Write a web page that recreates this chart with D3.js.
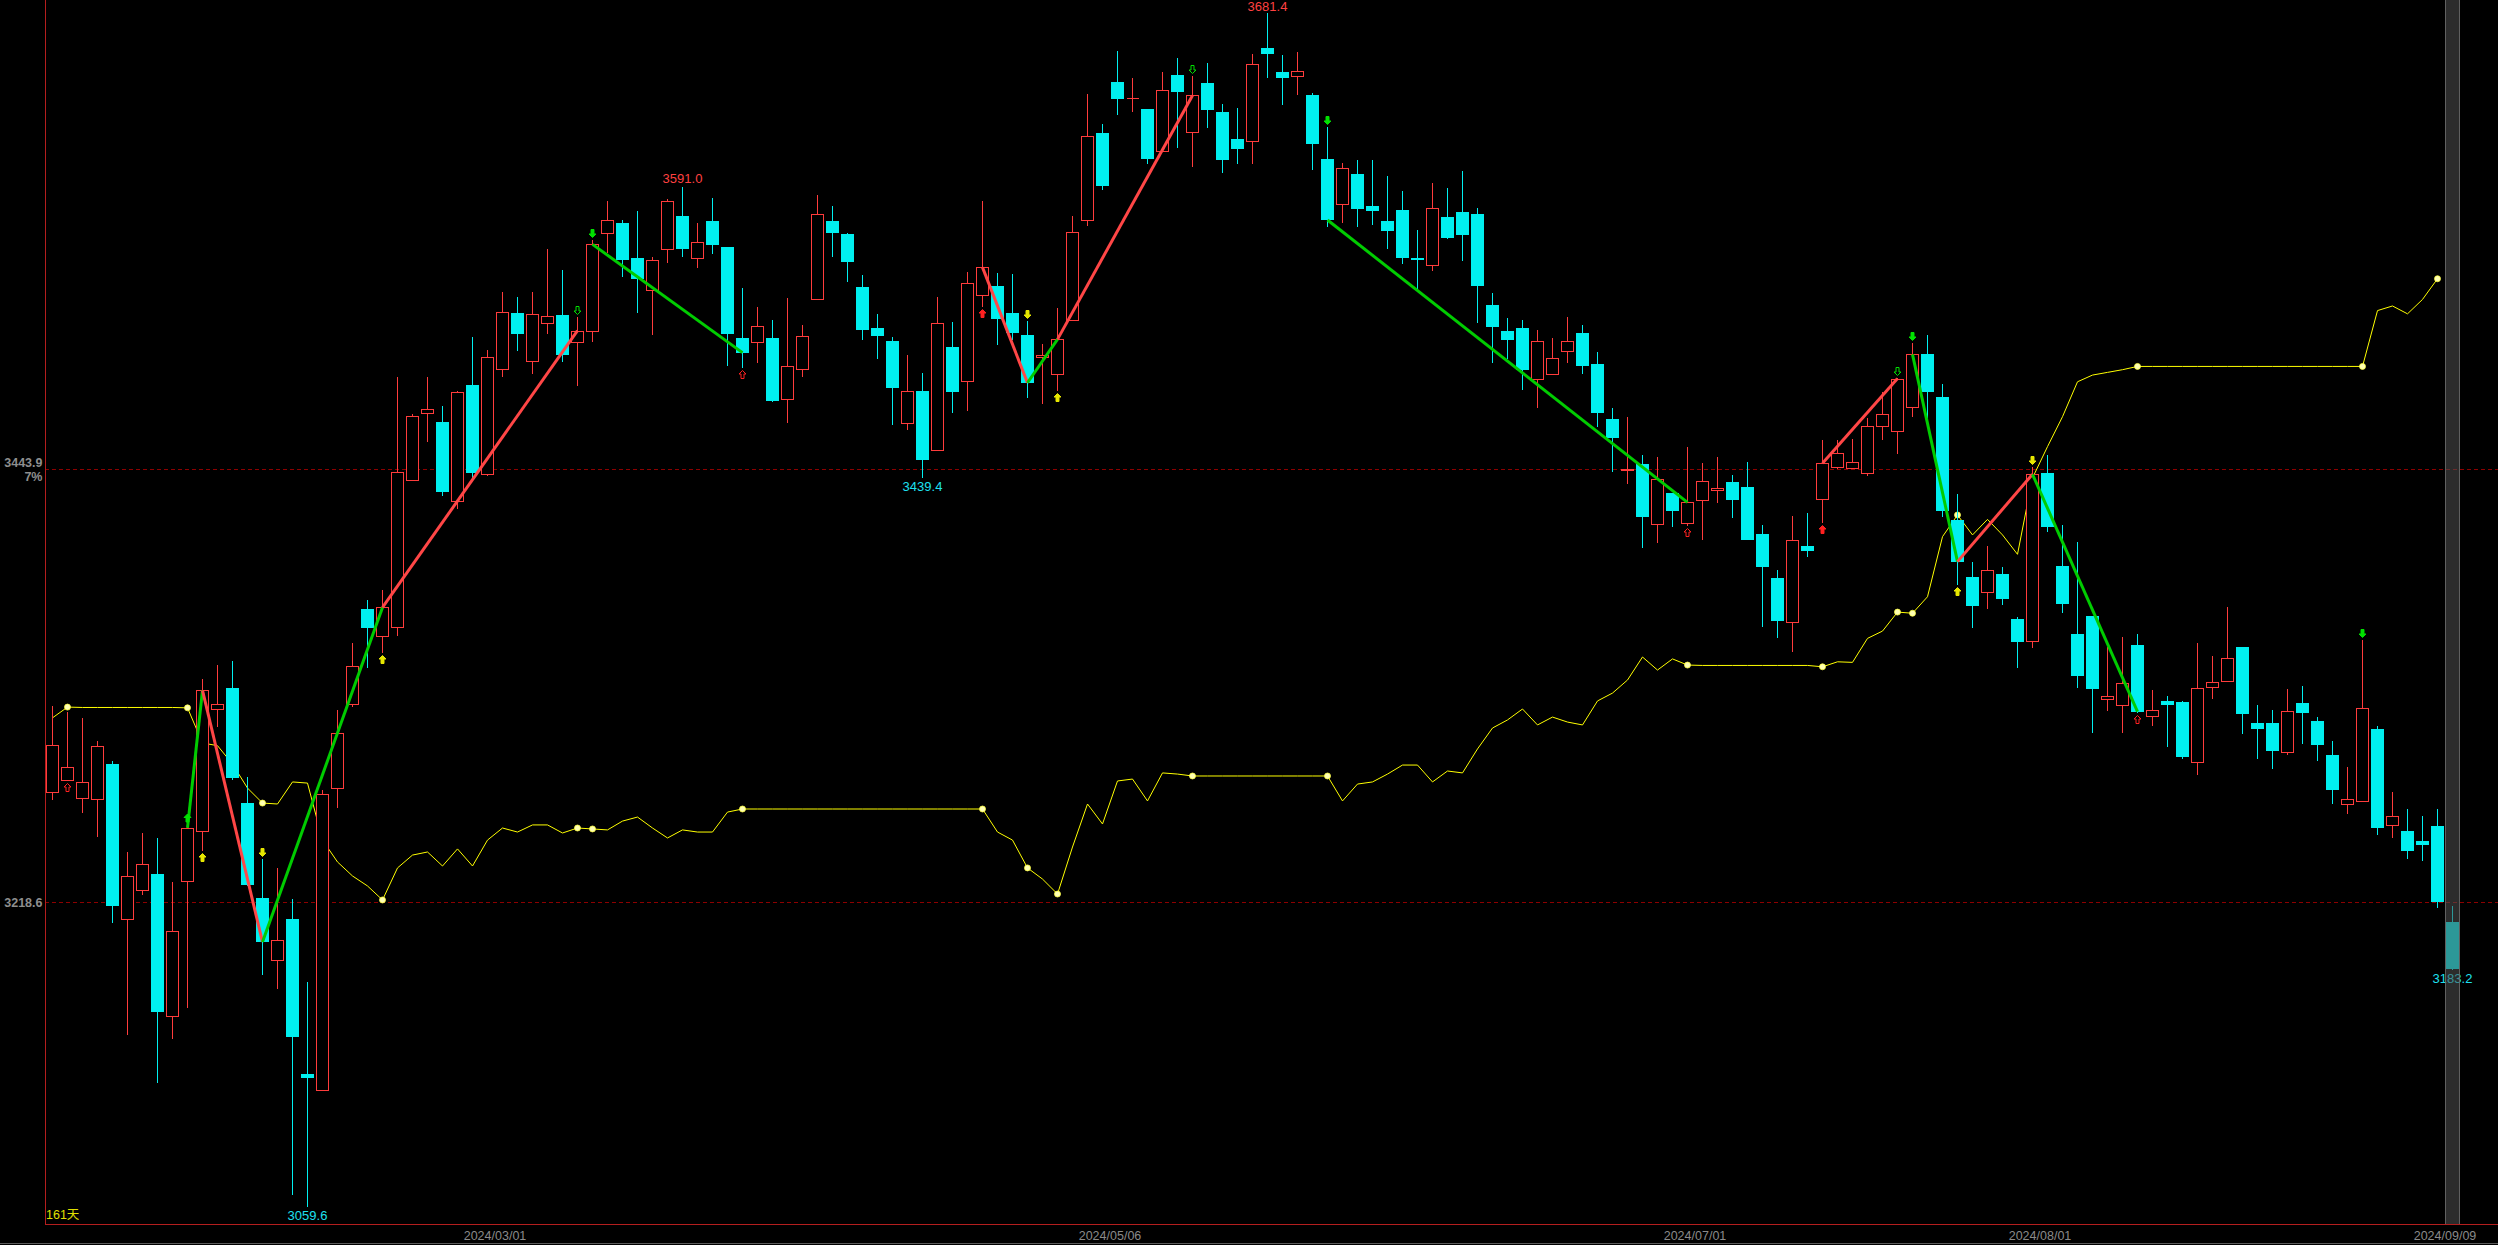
<!DOCTYPE html>
<html><head><meta charset="utf-8">
<script src="https://cdn.jsdelivr.net/npm/d3@7/dist/d3.min.js"></script>
<style>html,body{margin:0;padding:0;background:#000;overflow:hidden}svg{display:block}</style>
</head><body>
<svg id="c" width="2498" height="1245"></svg>
<script>
// ---------------- DATA ----------------
const opens = [3275.8,3282.2,3272.7,3272.3,3290.1,3209.6,3224.8,3232.8,3159.0,3229.3,
 3255.5,3319.1,3329.9,3269.8,3220.4,3188.1,3209.4,3128.8,3120.7,3278.1,
 3321.6,3371.1,3357.3,3361.6,3438.5,3473.0,3468.5,3427.2,3487.9,3441.7,
 3496.3,3525.3,3500.4,3519.9,3524.2,3510.4,3516.2,3566.8,3572.2,3554.0,
 3537.1,3558.5,3575.9,3554.2,3573.3,3559.6,3512.1,3510.4,3512.1,3480.4,
 3496.0,3532.5,3573.3,3566.5,3538.9,3517.5,3510.7,3468.2,3484.7,3454.1,
 3507.4,3489.7,3534.5,3539.2,3525.2,3513.7,3502.2,3493.4,3521.5,3573.6,
 3618.9,3645.7,3637.2,3631.6,3609.9,3649.2,3619.4,3645.2,3630.1,3616.0,
 3615.1,3663.4,3650.9,3648.7,3638.9,3605.6,3582.0,3597.8,3581.1,3573.3,
 3579.0,3554.0,3550.2,3575.4,3578.0,3576.9,3529.5,3516.0,3517.5,3490.8,
 3493.7,3505.7,3514.9,3498.8,3470.1,3443.4,3446.7,3415.2,3431.4,3415.7,
 3427.7,3432.9,3437.3,3434.7,3410.2,3387.3,3364.5,3403.9,3428.6,3445.3,
 3444.7,3442.2,3466.6,3464.0,3476.5,3504.0,3481.6,3417.5,3387.8,3380.1,
 3389.2,3365.9,3354.6,3442.0,3393.5,3358.1,3367.5,3324.1,3321.2,3352.3,
 3315.2,3323.0,3322.5,3291.2,3330.6,3333.4,3351.3,3311.5,3311.5,3296.8,
 3321.9,3312.6,3294.9,3269.3,3270.9,3308.4,3258.4,3255.3,3250.0,3258.0,
 3208.0];
const highs = [3320.8,3317.3,3314.1,3302.3,3291.7,3244.3,3254.2,3251.7,3229.1,3264.2,
 3334.7,3341.9,3344.0,3283.5,3241.1,3236.4,3219.8,3176.9,3276.8,3318.3,
 3353.4,3375.6,3380.8,3492.2,3472.8,3492.0,3476.9,3484.5,3512.7,3506.0,
 3536.5,3533.9,3536.3,3558.7,3547.7,3523.5,3563.5,3583.6,3573.8,3578.5,
 3554.3,3584.7,3591.0,3572.1,3585.1,3559.8,3538.2,3528.3,3521.5,3533.0,
 3519.1,3586.8,3581.1,3567.2,3545.1,3524.8,3512.8,3503.5,3494.1,3533.7,
 3520.6,3546.7,3583.7,3546.0,3545.5,3521.2,3509.0,3527.8,3575.9,3639.3,
 3623.6,3661.9,3647.6,3631.8,3650.9,3658.0,3648.8,3655.6,3634.2,3632.2,
 3660.3,3681.4,3659.8,3661.3,3640.0,3622.4,3603.3,3605.1,3605.1,3596.7,
 3588.9,3568.6,3593.1,3590.5,3599.3,3580.0,3535.8,3522.7,3521.5,3516.5,
 3512.1,3523.3,3519.1,3505.0,3475.8,3471.2,3451.4,3450.1,3431.6,3455.7,
 3447.2,3450.3,3440.9,3447.7,3414.9,3391.4,3419.6,3421.0,3459.2,3459.2,
 3459.7,3470.4,3484.0,3491.3,3509.9,3513.9,3488.3,3431.0,3395.6,3403.9,
 3392.8,3367.1,3445.3,3451.4,3414.9,3406.0,3367.7,3351.5,3356.3,3358.1,
 3328.9,3325.8,3323.2,3353.4,3346.6,3372.0,3351.5,3320.9,3318.5,3329.4,
 3330.8,3314.8,3302.2,3288.6,3354.9,3310.1,3275.8,3266.9,3263.3,3266.9,
 3216.4];
const lows = [3271.6,3281.5,3264.6,3252.3,3207.3,3148.9,3222.3,3124.2,3146.8,3163.4,
 3244.9,3309.6,3282.0,3226.8,3180.6,3172.9,3065.9,3059.6,3120.4,3267.5,
 3319.9,3340.6,3348.0,3357.3,3437.8,3458.3,3430.0,3423.1,3439.3,3440.4,
 3492.2,3505.6,3493.7,3514.5,3499.6,3487.5,3510.2,3556.4,3543.9,3525.5,
 3514.1,3551.6,3554.7,3549.0,3556.3,3497.9,3496.5,3499.1,3479.1,3467.9,
 3491.8,3532.3,3554.7,3541.7,3511.3,3501.4,3467.0,3464.4,3439.4,3453.6,
 3473.4,3474.5,3528.6,3508.7,3511.3,3481.2,3478.1,3484.9,3521.3,3570.9,
 3589.6,3628.5,3630.2,3603.1,3609.7,3611.5,3601.6,3621.9,3598.5,3603.2,
 3603.2,3648.0,3633.9,3639.1,3599.8,3570.3,3572.4,3570.3,3571.2,3558.9,
 3551.0,3536.5,3547.4,3563.7,3552.6,3520.3,3499.1,3501.4,3485.2,3476.0,
 3493.0,3499.5,3493.6,3466.1,3442.7,3436.4,3402.7,3405.3,3414.0,3414.4,
 3407.1,3426.5,3418.7,3407.0,3361.9,3356.2,3348.9,3398.4,3415.7,3443.9,
 3443.9,3440.4,3459.2,3451.9,3471.3,3470.0,3419.2,3383.6,3361.0,3370.9,
 3373.2,3340.2,3351.0,3411.4,3369.2,3330.1,3306.7,3318.1,3306.7,3316.7,
 3310.3,3299.4,3293.1,3284.8,3324.4,3333.2,3306.1,3293.1,3287.9,3295.2,
 3300.9,3292.1,3269.7,3264.5,3270.4,3253.4,3252.0,3241.0,3239.8,3215.5,
 3183.2];
const closes = [3300.5,3288.6,3281.2,3299.8,3216.3,3232.2,3238.4,3160.9,3203.4,3257.1,
 3328.7,3321.4,3283.2,3227.3,3197.6,3198.8,3148.0,3126.5,3274.9,3306.7,
 3341.5,3361.4,3371.9,3442.3,3471.5,3475.2,3432.0,3484.0,3441.9,3502.2,
 3526.1,3514.5,3524.6,3524.0,3503.5,3516.2,3561.1,3573.6,3552.7,3543.2,
 3552.8,3583.5,3558.9,3562.2,3560.8,3514.6,3504.7,3518.4,3479.6,3497.6,
 3513.2,3576.7,3567.2,3552.0,3516.7,3513.5,3486.4,3484.6,3448.7,3519.9,
 3484.4,3540.8,3549.1,3522.4,3515.1,3489.0,3503.3,3511.6,3567.4,3617.4,
 3591.7,3637.0,3637.6,3605.8,3641.4,3640.7,3638.7,3631.1,3605.0,3610.8,
 3655.1,3660.5,3648.0,3651.3,3613.6,3573.8,3600.7,3579.5,3578.7,3568.2,
 3554.0,3553.1,3579.9,3564.6,3566.2,3539.6,3518.2,3511.4,3495.6,3510.6,
 3501.7,3510.6,3497.9,3473.4,3460.4,3444.0,3419.2,3438.7,3422.3,3426.7,
 3437.6,3434.0,3428.1,3407.2,3393.2,3365.0,3407.1,3401.5,3447.0,3452.2,
 3447.5,3466.3,3472.5,3491.2,3503.8,3484.4,3422.4,3395.8,3372.9,3391.4,
 3376.1,3354.1,3441.3,3414.0,3373.9,3336.4,3329.6,3325.7,3332.4,3317.6,
 3318.3,3321.3,3294.2,3329.8,3332.9,3345.4,3316.6,3308.8,3297.3,3317.8,
 3317.1,3300.4,3277.0,3271.9,3319.3,3256.8,3263.1,3245.2,3248.3,3218.4,
 3183.5];

// yellow overlay series (expressed in price-axis units), candles 0..159
const overlay = [3314.4,3320.0,3319.8,3319.8,3319.8,3319.8,3319.8,3319.8,3319.8,3319.6,
 3301.3,3299.9,3290.3,3277.8,3270.0,3269.5,3281.0,3280.4,3250.7,3239.3,
 3232.0,3226.8,3219.5,3236.2,3242.9,3244.5,3237.2,3246.1,3237.2,3250.7,
 3257.0,3254.9,3258.6,3258.6,3254.4,3257.0,3256.5,3256.0,3260.6,3262.7,
 3257.0,3251.8,3256.0,3254.9,3254.9,3265.3,3266.9,3266.9,3266.9,3266.9,
 3266.9,3266.9,3266.9,3266.9,3266.9,3266.9,3266.9,3266.9,3266.9,3266.9,
 3266.9,3266.9,3266.9,3254.9,3250.7,3236.2,3230.4,3222.6,3247.1,3269.5,
 3259.1,3281.5,3282.5,3271.1,3285.7,3285.1,3284.1,3284.1,3284.1,3284.1,
 3284.1,3284.1,3284.1,3284.1,3284.1,3284.1,3271.1,3279.9,3281.0,3285.1,
 3289.8,3289.8,3281.0,3286.7,3285.7,3298.2,3309.1,3313.3,3319.0,3310.7,
 3314.8,3312.2,3310.7,3323.2,3327.3,3334.1,3346.1,3339.3,3345.1,3341.9,
 3341.7,3341.7,3341.7,3341.7,3341.7,3341.7,3341.7,3341.7,3341.0,3343.6,
 3343.3,3355.8,3359.6,3369.5,3368.9,3377.5,3408.8,3420.1,3409.7,3417.8,
 3409.7,3399.6,3439.4,3455.7,3471.3,3489.5,3493.0,3494.4,3495.8,3497.5,
 3497.5,3497.5,3497.5,3497.5,3497.5,3497.5,3497.5,3497.5,3497.5,3497.5,
 3497.5,3497.5,3497.5,3497.5,3497.5,3526.6,3529.0,3524.9,3532.4,3543.2];
const overlayDots = [1,9,10,14,22,35,36,46,62,65,67,76,85,109,118,123,124,127,132,139,154,159];

// zigzag segments joining closes: [from, to, colour]
const zigzag = [[9,10,'g'],[10,14,'r'],[14,22,'g'],[22,35,'r'],[36,46,'g'],[62,65,'r'],[65,67,'g'],
 [67,76,'r'],[85,109,'g'],[118,123,'r'],[124,127,'g'],[127,132,'r'],[132,139,'g']];

// signal markers
const markerIdx  = [1,9,10,14,22,35,36,46,62,65,67,76,85,109,118,123,124,127,132,139,154];
const markerKind = ['redHollowUp','greenUpAtHigh','yellowUp','yellowDown','yellowUp','greenHollowDown','greenDown',
 'redHollowUp','redUp','yellowDown','yellowUp','greenHollowDown','greenDown','redHollowUp','redUp',
 'greenHollowDown','greenDown','yellowUp','yellowDown','redHollowUp','greenDown'];

// extreme value labels
const extIdx  = [81, 42, 58, 17, 160];
const extSide = ['high','high','low','low','low'];

// axes
const axisPrices = [3443.9, 3218.6];
const tickIdx = [30, 71, 110, 133, 160];
const tickLabels = ['2024/03/01','2024/05/06','2024/07/01','2024/08/01','2024/09/09'];
const dayCountLabel = '161天';
const pctLabel = '7%';

// ---------------- DRAW ----------------
const W = 2498, H = 1245;
const LEFT = 45, BOTTOM = 1224;
const svg = d3.select('#c');
const FONT = '"Liberation Sans", Arial, "Noto Sans CJK SC", sans-serif';
const RED = '#ff3c3c', CYAN = '#00f0f0';

svg.append('rect').attr('width', W).attr('height', H).attr('fill', '#000');

const n = opens.length;
const x = d3.scaleBand().domain(d3.range(n)).range([LEFT, LEFT + 15 * n]).paddingInner(0).paddingOuter(0);
const cx = i => x(i) + x.bandwidth() / 2;
const y = d3.scaleLinear().domain([3218.6, 3443.9]).range([901.7, 469.3]);
const ry = v => Math.round(y(v));

// reference dashed lines
svg.append('g').selectAll('line').data(axisPrices).join('line')
  .attr('x1', LEFT).attr('x2', W)
  .attr('y1', d => ry(d) + 0.5).attr('y2', d => ry(d) + 0.5)
  .attr('stroke', '#8c0000').attr('stroke-width', 1).attr('stroke-dasharray', '4,3');

// yellow overlay line
const gOv = svg.append('g');
gOv.append('path').datum(overlay)
  .attr('fill', 'none').attr('stroke', '#ffff00').attr('stroke-width', 1)
  .attr('d', d3.line().x((d, i) => cx(i)).y(d => y(d)));

// candles
const gC = svg.append('g').attr('shape-rendering', 'crispEdges');
d3.range(n).forEach(i => {
  const o = opens[i], c = closes[i], h = highs[i], l = lows[i];
  const X = cx(i);
  const up = c >= o;
  const top = ry(Math.max(o, c)), bot = ry(Math.min(o, c));
  const col = up ? RED : CYAN;
  if (up) {
    if (ry(h) < top) gC.append('line').attr('x1', X).attr('x2', X).attr('y1', ry(h)).attr('y2', top).attr('stroke', col);
    if (ry(l) > bot) gC.append('line').attr('x1', X).attr('x2', X).attr('y1', bot).attr('y2', ry(l)).attr('stroke', col);
    const x0 = X - 6, x1 = X + 6, y0 = top + 0.5, y1 = Math.max(bot, top) + 0.5;
    gC.append('path').attr('d', `M${x0},${y0}H${x1}V${y1}H${x0}Z`)
      .attr('fill', '#000').attr('stroke', col).attr('stroke-width', 1);
  } else {
    gC.append('line').attr('x1', X).attr('x2', X).attr('y1', ry(h)).attr('y2', ry(l)).attr('stroke', col);
    gC.append('rect').attr('x', X - 6.5).attr('width', 13)
      .attr('y', top).attr('height', Math.max(1, bot - top)).attr('fill', col);
  }
});

// zigzag
const gZ = svg.append('g');
const zl = d3.line().x(d => cx(d)).y(d => y(closes[d]));
zigzag.forEach(([a, b, k]) => {
  gZ.append('path').attr('d', zl([a, b])).attr('fill', 'none')
    .attr('stroke', k === 'g' ? '#00cc00' : '#ff4646').attr('stroke-width', 3);
});

// overlay dots
gOv.selectAll('circle').data(overlayDots).join('circle')
  .attr('cx', d => cx(d)).attr('cy', d => y(overlay[d])).attr('r', 3)
  .attr('fill', '#ffffb4').attr('stroke', '#ffff40').attr('stroke-width', 0.8);

// markers
const upArrow = 'M0,-4L3.5,-0.5L1.5,-0.5L1.5,4L-1.5,4L-1.5,-0.5L-3.5,-0.5Z';
const downArrow = 'M0,4L3.5,0.5L1.5,0.5L1.5,-4L-1.5,-4L-1.5,0.5L-3.5,0.5Z';
const gM = svg.append('g');
markerIdx.forEach((i, k) => {
  const kind = markerKind[k];
  let color = '#e6e600', hollow = false, dir = 'up', yy;
  if (kind.startsWith('red')) color = '#ff2020';
  if (kind.startsWith('green')) color = '#00e000';
  if (kind.includes('Hollow')) hollow = true;
  if (kind.includes('Down')) dir = 'down';
  if (kind === 'greenUpAtHigh') { yy = ry(highs[i]) + 4; }
  else if (dir === 'up') yy = ry(lows[i]) + 6.5;
  else yy = ry(highs[i]) - 6.5;
  gM.append('path').attr('d', dir === 'up' ? upArrow : downArrow)
    .attr('transform', `translate(${cx(i)},${yy})`)
    .attr('fill', hollow ? '#000' : color).attr('stroke', color).attr('stroke-width', 1);
});

// extreme labels
const gL = svg.append('g').attr('font-family', FONT).attr('font-size', 13).attr('text-anchor', 'middle');
extIdx.forEach((i, k) => {
  const side = extSide[k];
  const v = side === 'high' ? highs[i] : lows[i];
  gL.append('text').attr('x', cx(i))
    .attr('y', side === 'high' ? Math.max(y(v) - 4, 10.5) : y(v) + 13)
    .attr('fill', side === 'high' ? '#ff4040' : '#1ee0f0')
    .text(v.toFixed(1));
});

// axes
const yAxis = d3.axisLeft(y).tickValues(axisPrices).tickFormat(d => d.toFixed(1)).tickSize(0).tickPadding(2.5);
const gy = svg.append('g').attr('transform', `translate(${LEFT},0)`).call(yAxis);
gy.select('.domain').remove();
gy.selectAll('text').attr('font-family', FONT).attr('font-size', 12.5).attr('font-weight', 'bold')
  .attr('fill', '#8e8e8e').attr('dy', d => d === 3443.9 ? -2.8 : 4.6);
svg.append('text').attr('x', LEFT - 2.5).attr('y', y(3443.9) + 12)
  .attr('text-anchor', 'end').attr('font-family', FONT).attr('font-size', 12.5).attr('font-weight', 'bold')
  .attr('fill', '#8e8e8e').text(pctLabel);

const xAxis = d3.axisBottom(x).tickValues(tickIdx).tickFormat((d, k) => tickLabels[k]).tickSize(0);
const gx = svg.append('g').attr('transform', `translate(0,${BOTTOM})`).call(xAxis);
gx.select('.domain').remove();
gx.selectAll('text').attr('font-family', FONT).attr('font-size', 12.5).attr('fill', '#8a8a8a')
  .attr('x', -x.bandwidth() / 2).attr('y', 15.5).attr('dy', 0);

// axis lines
svg.append('line').attr('x1', LEFT + 0.5).attr('x2', LEFT + 0.5).attr('y1', 0).attr('y2', BOTTOM)
  .attr('stroke', '#b41e1e').attr('stroke-width', 1);
svg.append('line').attr('x1', LEFT).attr('x2', W).attr('y1', BOTTOM + 0.5).attr('y2', BOTTOM + 0.5)
  .attr('stroke', '#b41e1e').attr('stroke-width', 1);
svg.append('line').attr('x1', 0).attr('x2', W).attr('y1', H - 1.5).attr('y2', H - 1.5)
  .attr('stroke', '#5a5a5a').attr('stroke-width', 1);

svg.append('text').attr('x', LEFT + 1).attr('y', BOTTOM - 5)
  .attr('font-family', FONT).attr('font-size', 12.5).attr('fill', '#e0e000').text(dayCountLabel);

// highlight band on the last candle
const last = n - 1;
svg.append('rect').attr('x', x(last)).attr('width', x.bandwidth()).attr('y', 0).attr('height', BOTTOM)
  .attr('fill', 'rgba(80,80,80,0.55)');
svg.append('g').attr('shape-rendering', 'crispEdges').selectAll('line').data([x(last) + 0.5, x(last) + x.bandwidth() - 0.5]).join('line')
  .attr('x1', d => d).attr('x2', d => d).attr('y1', 0).attr('y2', BOTTOM)
  .attr('stroke', 'rgba(110,110,110,0.8)');
</script>
</body></html>
